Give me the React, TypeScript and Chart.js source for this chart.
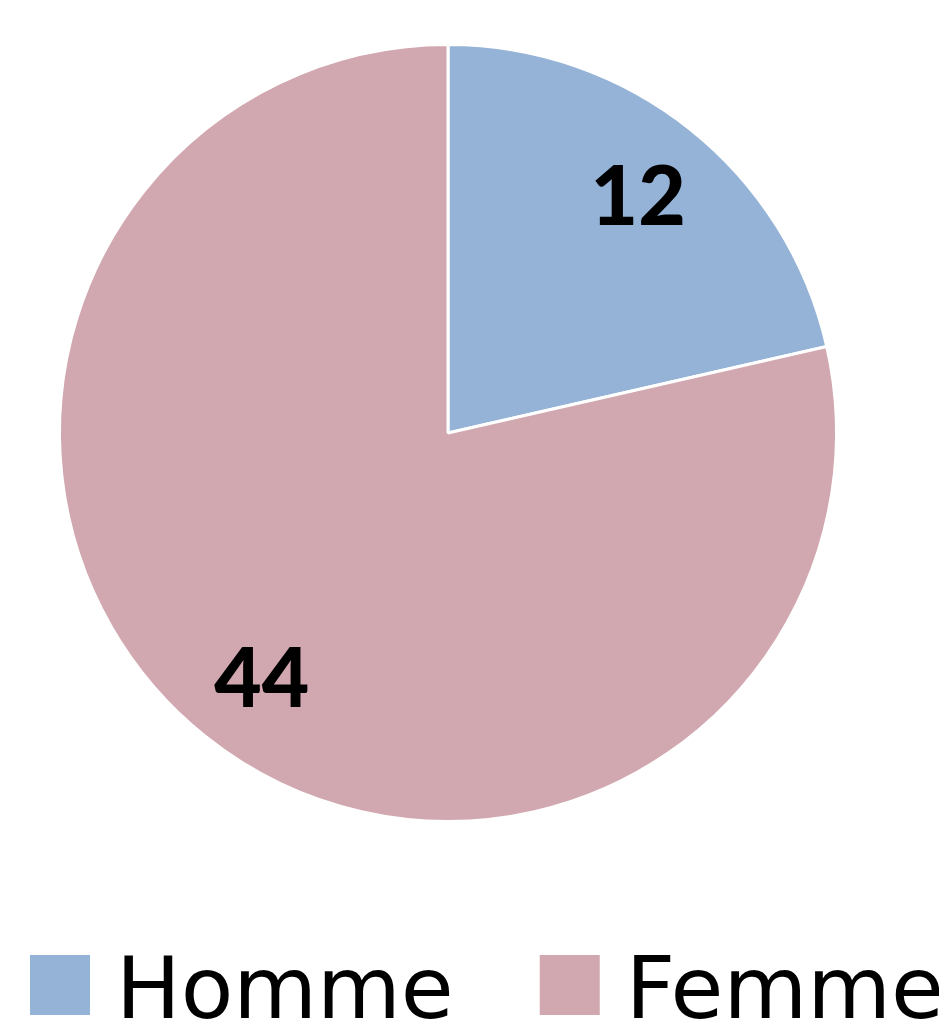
import React, { useEffect, useRef } from 'react';
import { Chart, registerables } from 'chart.js';

Chart.register(...registerables);

const categories = ['Homme', 'Femme'];
const values = [12, 44];
const sliceColors = ['#95B3D7', '#D1A7B0'];

const valueLabelPlugin = {
  id: 'valueLabels',
  afterDatasetsDraw(chart: any) {
    const ctx = chart.ctx;
    const meta = chart.getDatasetMeta(0);
    ctx.save();
    ctx.font = '900 82px Lato, "Open Sans", sans-serif';
    ctx.fillStyle = '#000000';
    ctx.textAlign = 'center';
    ctx.textBaseline = 'alphabetic';
    meta.data.forEach((arc: any, i: number) => {
      const { x, y, startAngle, endAngle, outerRadius } = arc.getProps(
        ['x', 'y', 'startAngle', 'endAngle', 'outerRadius'],
        true
      );
      const mid = (startAngle + endAngle) / 2;
      const d = outerRadius * 0.785;
      const px = x + Math.cos(mid) * d;
      const py = y + Math.sin(mid) * d;
      ctx.fillText(String(chart.data.datasets[0].data[i]), px + (i === 1 ? 4 : 0), py + (i === 1 ? 36 : 30));
    });
    ctx.restore();
  },
};

const bottomLegendPlugin = {
  id: 'bottomLegend',
  afterDraw(chart: any) {
    const ctx = chart.ctx;
    const labels: string[] = chart.data.labels;
    const bg: string[] = chart.data.datasets[0].backgroundColor;
    const boxSize = 60;
    const boxGap = 26;
    const itemGap = 86;
    const boxTop = 947;
    const baseline = 1010;
    ctx.save();
    ctx.font = '86px "DejaVu Sans", sans-serif';
    ctx.textBaseline = 'alphabetic';
    ctx.textAlign = 'left';
    let x = 22;
    labels.forEach((lab, i) => {
      ctx.fillStyle = bg[i];
      ctx.fillRect(x, boxTop, boxSize, boxSize);
      x += boxSize + boxGap;
      ctx.fillStyle = '#000000';
      ctx.fillText(lab, x, baseline);
      x += ctx.measureText(lab).width + itemGap;
    });
    ctx.restore();
  },
};

export default function App() {
  const canvasRef = useRef<HTMLCanvasElement | null>(null);

  useEffect(() => {
    if (!canvasRef.current) return;
    const chart = new Chart(canvasRef.current, {
      type: 'pie',
      data: {
        labels: categories,
        datasets: [
          {
            data: values,
            backgroundColor: sliceColors,
            borderColor: '#FFFFFF',
            borderWidth: 3,
          },
        ],
      },
      options: {
        animation: false,
        responsive: true,
        maintainAspectRatio: false,
        layout: { padding: { top: 35, left: 0, right: 51, bottom: 198 } },
        plugins: {
          legend: { display: false },
          tooltip: { enabled: false },
        },
      },
      plugins: [valueLabelPlugin, bottomLegendPlugin],
    });
    return () => chart.destroy();
  }, []);

  return (
    <div style={{ width: 931, height: 1013, position: 'relative' }}>
      <canvas ref={canvasRef} />
    </div>
  );
}
